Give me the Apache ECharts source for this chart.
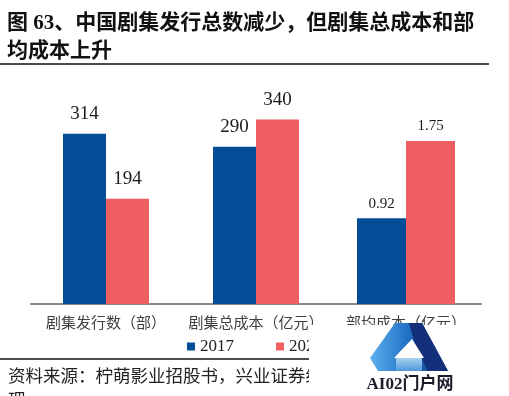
<!DOCTYPE html>
<html><head><meta charset="utf-8">
<script src="https://cdn.jsdelivr.net/npm/echarts@6/dist/echarts.min.js"></script>
<style>html,body{margin:0;padding:0;background:#fff}#c{width:509px;height:396px}</style>
</head><body><div id="c"></div>
<script>
const categories = ['剧集发行数（部）', '剧集总成本（亿元）', '部均成本（亿元）'];
const seriesNames = ['2017', '2020'];
const values2017 = [314, 290, 0.92];
const values2020 = [194, 340, 1.75];
// third category is drawn on its own (secondary) value axis
const onSecondary = [false, false, true];
const titleText = '图 63、中国剧集发行总数减少，但剧集总成本和部\n均成本上升';
const sourceText = '资料来源：柠萌影业招股书，兴业证券经济与金融研究院整';
const sourceText2 = '理';

const BLUE = '#034C96', RED = '#EE5E62';
const pick = (arr, sec) => arr.map((v, i) => onSecondary[i] === sec ? v : '-');
const serifNum = '"Liberation Serif","Times New Roman",serif';
const cjk = '"Noto Sans CJK SC","Liberation Serif",sans-serif';

function mkSeries(name, data, color, xi, bw, big) {
  return {
    name, type: 'bar', xAxisIndex: xi, yAxisIndex: xi, data,
    barWidth: bw, barGap: '0%', itemStyle: { color },
    label: {
      show: true, position: 'top', distance: big ? 10 : 7,
      fontFamily: serifNum, fontSize: big ? 19 : 15, color: '#1a1a1a'
    }
  };
}

const chart = echarts.init(document.getElementById('c'), null, { renderer: 'canvas' });
chart.setOption({
  animation: false,
  backgroundColor: '#fff',
  title: {
    text: titleText, left: 7, top: 10, padding: 0,
    textStyle: { fontFamily: '"Liberation Serif","Noto Sans CJK SC",serif', fontSize: 21, fontWeight: 'bold', lineHeight: 28, color: '#111' }
  },
  legend: {
    data: seriesNames, left: 187, top: 338, padding: 0, icon: 'rect', itemWidth: 8, itemHeight: 8,
    itemGap: 42, itemTextGap: 2,
    textStyle: { fontFamily: serifNum, fontSize: 17, color: '#222' }
  },
  grid: { left: 31, right: 28, top: 87, bottom: 92, containLabel: false },
  xAxis: [
    { type: 'category', data: categories, position: 'bottom',
      axisLine: { lineStyle: { color: '#8a8a8a', width: 2 } }, axisTick: { show: false },
      axisLabel: { margin: 11, fontFamily: cjk, fontSize: 15, color: '#404040', interval: 0 } },
    { type: 'category', data: categories, position: 'top', show: false }
  ],
  yAxis: [
    { type: 'value', min: 0, max: 400, show: false, splitLine: { show: false } },
    { type: 'value', min: 0, max: 2.33, show: false, splitLine: { show: false } }
  ],
  series: [
    mkSeries(seriesNames[0], pick(values2017, false), BLUE, 0, 43, true),
    mkSeries(seriesNames[1], pick(values2020, false), RED, 0, 43, true),
    mkSeries(seriesNames[0], pick(values2017, true), BLUE, 1, 49, false),
    mkSeries(seriesNames[1], pick(values2020, true), RED, 1, 49, false)
  ],
  graphic: [
    { type: 'line', shape: { x1: 0, y1: 64, x2: 489, y2: 64 }, style: { stroke: '#111', lineWidth: 1.5 }, z: 50 },
    { type: 'line', shape: { x1: 0, y1: 359, x2: 489, y2: 359 }, style: { stroke: '#111', lineWidth: 1.5 }, z: 50 },
    { type: 'text', x: 8, y: 375, style: { text: sourceText, font: '17.5px ' + cjk, fill: '#222', verticalAlign: 'middle' }, z: 50 },
    { type: 'text', x: 8, y: 399, style: { text: sourceText2, font: '17.5px ' + cjk, fill: '#222', verticalAlign: 'middle' }, z: 50 },
    // watermark block
    { type: 'rect', shape: { x: 309, y: 325, width: 200, height: 71 }, style: { fill: '#fff' }, z: 100 },
    { type: 'polygon', shape: { points: [[395, 323], [422, 323], [448, 371], [378, 371], [370, 358]] },
      style: { fill: new echarts.graphic.LinearGradient(0, 0, 1, 0, [{ offset: 0, color: '#5DB0EE' }, { offset: 0.5, color: '#1F6FC4' }, { offset: 1, color: '#12357E' }]) }, z: 101 },
    { type: 'polygon', shape: { points: [[409, 323], [422, 323], [448, 371], [428, 371], [416, 348]] }, style: { fill: '#15307A' }, z: 102 },
    { type: 'polygon', shape: { points: [[412, 339], [424, 358], [394, 358]] }, style: { fill: '#fff' }, z: 103 },
    { type: 'rect', shape: { x: 396, y: 358, width: 26, height: 13 }, style: { fill: new echarts.graphic.LinearGradient(0, 0, 0, 1, [{ offset: 0, color: '#A9D2F2' }, { offset: 1, color: '#4F97DA' }]) }, z: 104 },
    { type: 'text', x: 410, y: 385, style: { text: 'AI02门户网', font: 'bold 17px "Liberation Serif","Noto Sans CJK SC",serif', fill: '#1b1b2a', align: 'center', verticalAlign: 'middle' }, z: 105 }
  ]
});
</script></body></html>
